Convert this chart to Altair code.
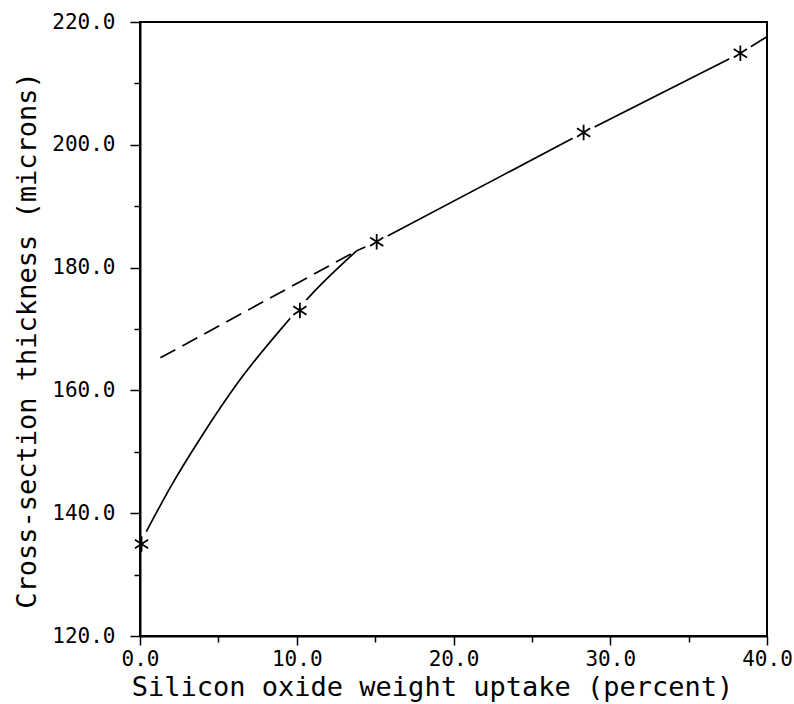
import altair as alt
import pandas as pd

# Measured points (asterisks)
pts_x = [0.1, 10.2, 15.1, 28.3, 38.3]
pts_y = [135.0, 173.0, 184.2, 202.0, 214.9]

# Solid curve (low-uptake region)
curve_x = [0.4, 2.0, 3.8, 6.4, 9.2, 11.0, 13.8]
curve_y = [137.0, 144.5, 152.0, 161.8, 170.6, 175.8, 182.7]

# Solid straight line (linear fit)
fit_x = [13.8, 15.1, 28.3, 38.3, 40.0]
fit_y = [182.7, 184.2, 202.0, 214.9, 217.6]

# Dashed extrapolation of the linear fit
ext_x = [1.3, 13.8]
ext_y = [165.3, 182.7]

x_ticks = [0, 5, 10, 15, 20, 25, 30, 35, 40]
y_ticks = [120, 130, 140, 150, 160, 170, 180, 190, 200, 210, 220]

FONT = "DejaVu Sans Mono"

pts = pd.DataFrame({"x": pts_x, "y": pts_y})
curve = pd.DataFrame({"x": curve_x, "y": curve_y})
fit = pd.DataFrame({"x": fit_x, "y": fit_y})
ext = pd.DataFrame({"x": ext_x, "y": ext_y})

xscale = alt.Scale(domain=[0, 40], nice=False, zero=False)
yscale = alt.Scale(domain=[120, 220], nice=False, zero=False)

xaxis = alt.Axis(
    values=x_ticks,
    labelExpr="datum.value % 10 === 0 ? format(datum.value, '.1f') : ''",
    tickSize={"condition": {"test": "datum.value % 10 === 0", "value": 9}, "value": 6},
    tickColor="black", tickWidth=1.5,
    domainColor="black", domainWidth=2,
    labelFont=FONT, labelFontSize=21, labelColor="black", labelPadding=3,
    labelFlush=False,
    title="Silicon oxide weight uptake (percent)",
    titleFont=FONT, titleFontSize=27, titleFontWeight="normal", titleColor="black",
    titleX=292, titleY=59, titleBaseline="alphabetic", titleAlign="center",
    grid=False,
)
yaxis = alt.Axis(
    values=y_ticks,
    labelExpr="datum.value % 20 === 0 ? format(datum.value, '.1f') : ''",
    tickSize={"condition": {"test": "datum.value % 20 === 0", "value": 10}, "value": 6},
    tickColor="black", tickWidth=1.5,
    domainColor="black", domainWidth=2,
    labelFont=FONT, labelFontSize=21, labelColor="black", labelPadding=15,
    labelFlush=False,
    title="Cross-section thickness (microns)",
    titleFont=FONT, titleFontSize=27, titleFontWeight="normal", titleColor="black",
    titleX=-105, titleY=318, titleBaseline="alphabetic", titleAlign="center", titleAngle=-90,
    grid=False,
)

base_x = alt.X("x:Q", scale=xscale, axis=xaxis)
base_y = alt.Y("y:Q", scale=yscale, axis=yaxis)

curve_line = alt.Chart(curve).mark_line(color="black", strokeWidth=1.7, interpolate="monotone").encode(
    x=base_x, y=base_y, order="x:Q")
fit_line = alt.Chart(fit).mark_line(color="black", strokeWidth=1.7).encode(x="x:Q", y="y:Q")
ext_line = alt.Chart(ext).mark_line(color="black", strokeWidth=1.7, strokeDash=[17, 8]).encode(x="x:Q", y="y:Q")

# white halo that breaks the lines around each marker
halo = alt.Chart(pts).transform_filter("datum.x > 1").mark_circle(
    color="white", opacity=1, size=620).encode(x="x:Q", y="y:Q")

star_path = "M0,-1L0,1M-0.85,-0.55L0.85,0.55M-0.85,0.55L0.85,-0.55"
stars = alt.Chart(pts).mark_point(
    shape=star_path, filled=False, color="black", strokeWidth=1.8, size=240, opacity=1).encode(
    x="x:Q", y="y:Q")

chart = alt.layer(curve_line, fit_line, ext_line, halo, stars).properties(
    width=627, height=614,
    autosize=alt.AutoSizeParams(type="none"),
    padding={"left": 140, "top": 22, "right": 27, "bottom": 68},
    background="white",
).configure_view(stroke="black", strokeWidth=2)

chart.save("out.html", embed_options={"renderer": "svg", "actions": False})
